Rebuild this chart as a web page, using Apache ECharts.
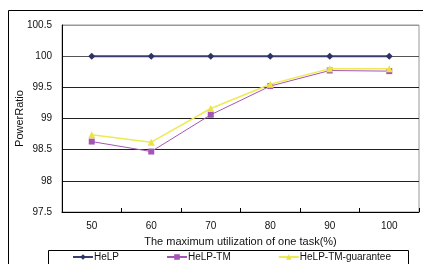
<!DOCTYPE html>
<html>
<head>
<meta charset="utf-8">
<script src="https://cdn.jsdelivr.net/npm/echarts@6/dist/echarts.min.js"></script>
<style>
  html, body { margin: 0; padding: 0; background: #fff; }
  #chart { width: 423px; height: 264px; }
</style>
</head>
<body>
<div id="chart"></div>
<script>
// values
var categories = ["50", "60", "70", "80", "90", "100"];
var help = [100, 100, 100, 100, 100, 100];
var helpTm = [98.63, 98.47, 99.06, 99.52, 99.77, 99.76];
var helpTmGuarantee = [98.74, 98.62, 99.16, 99.55, 99.8, 99.8];

var chart = echarts.init(document.getElementById("chart"));
var font = "Liberation Sans";

chart.setOption({
  animation: false,
  textStyle: { fontFamily: font },
  graphic: [
    {
      // outer frame of the figure
      type: "rect",
      shape: { x: 8.5, y: 10.5, width: 430, height: 270 },
      style: { fill: null, stroke: "#000", lineWidth: 1 },
      silent: true
    },
    {
      // legend box
      type: "rect",
      shape: { x: 48.5, y: 250.5, width: 360, height: 30 },
      style: { fill: "#fff", stroke: "#000", lineWidth: 1 },
      silent: true,
      z: 1
    }
  ],
  grid: {
    left: 62,
    right: 4,
    top: 25,
    bottom: 52,
    outerBoundsMode: "none",
    containLabel: false,
    show: true,
    borderColor: "#999",
    borderWidth: 1
  },
  legend: {
    left: 72,
    top: 251,
    width: 345,
    padding: 0,
    itemWidth: 20,
    itemHeight: 7,
    itemGap: 47,
    z: 5,
    textStyle: {
      fontFamily: font,
      fontSize: 10,
      color: "#111",
      lineHeight: 12,
      padding: [0, 0, 0, -4]
    },
    data: ["HeLP", "HeLP-TM", "HeLP-TM-guarantee"]
  },
  xAxis: {
    type: "category",
    data: categories,
    boundaryGap: true,
    name: "The maximum utilization of one task(%)",
    nameLocation: "middle",
    nameGap: 24,
    nameMoveOverlap: false,
    nameTextStyle: { fontFamily: font, fontSize: 11, color: "#111" },
    axisLine: { lineStyle: { color: "#000", width: 1 } },
    axisTick: { show: true, inside: true, length: 4, lineStyle: { color: "#000" } },
    axisLabel: { margin: 9, fontSize: 10, color: "#111", fontFamily: font },
    splitLine: { show: false }
  },
  yAxis: {
    type: "value",
    min: 97.5,
    max: 100.5,
    interval: 0.5,
    name: "PowerRatio",
    nameLocation: "middle",
    nameGap: 37,
    nameMoveOverlap: false,
    nameTextStyle: { fontFamily: font, fontSize: 11, color: "#111" },
    axisLine: { show: true, lineStyle: { color: "#000", width: 1 } },
    axisTick: { show: false },
    axisLabel: { margin: 10, fontSize: 10, color: "#111", fontFamily: font },
    splitLine: {
      show: true,
      lineStyle: {
        color: ["#000", "#222", "#222", "#222", "#222", "#555", "#999"],
        width: 1
      }
    }
  },
  series: [
    {
      name: "HeLP",
      type: "line",
      data: help,
      symbol: "diamond",
      symbolSize: 7,
      itemStyle: { color: "#2e3366" },
      lineStyle: { color: "#3a3f70", width: 2 },
      z: 2
    },
    {
      name: "HeLP-TM",
      type: "line",
      data: helpTm,
      symbol: "rect",
      symbolSize: 6,
      itemStyle: { color: "#a455b4" },
      lineStyle: { color: "#a455b4", width: 1 },
      z: 3
    },
    {
      name: "HeLP-TM-guarantee",
      type: "line",
      data: helpTmGuarantee,
      symbol: "triangle",
      symbolSize: 7,
      itemStyle: { color: "#ece340" },
      lineStyle: { color: "#eeea55", width: 1.5 },
      z: 4
    }
  ]
});
</script>
</body>
</html>
